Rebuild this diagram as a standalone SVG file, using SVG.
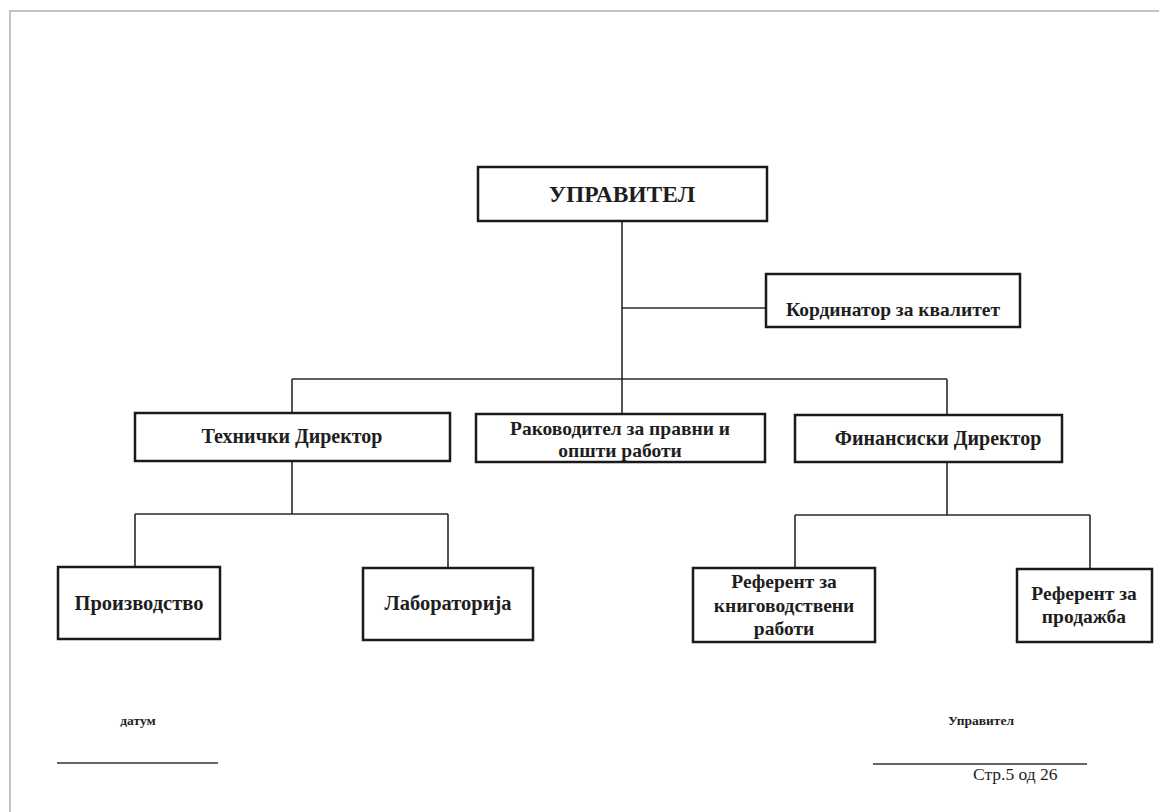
<svg xmlns="http://www.w3.org/2000/svg" width="1159" height="812" viewBox="0 0 1159 812">
<style>
.box{fill:#fff;stroke:#1a1a1a;stroke-width:2.5}
.ln{fill:none;stroke:#2a2a2a;stroke-width:1.6}
.t{font-family:"Liberation Serif","Times New Roman",serif;font-weight:bold;fill:#1e1e1e;text-anchor:middle}
.f{font-family:"Liberation Serif","Times New Roman",serif;fill:#1e1e1e}
</style>
<rect width="1159" height="812" fill="#fff"/>
<path d="M10 812 V11 H1159" fill="none" stroke="#c4c4c4" stroke-width="2"/>
<g id="connectors" class="ln">
<path d="M622 221 V413"/>
<path d="M622 308 H766"/>
<path d="M292 379 H947"/>
<path d="M292 379 V413"/>
<path d="M947 379 V415"/>
<path d="M292 461 V514 M135 514 H448 M135 514 V567 M448 514 V568"/>
<path d="M947 462 V515 M795 515 H1090 M795 515 V568 M1090 515 V569"/>
</g>
<g id="n-upravitel"><rect class="box" x="478" y="167" width="289" height="54"/><text class="t" x="622" y="202" font-size="23.5">УПРАВИТЕЛ</text></g>
<g id="n-kordinator"><rect class="box" x="766" y="274" width="254" height="53"/><text class="t" x="893" y="316" font-size="19.5">Кординатор за квалитет</text></g>
<g id="n-tehnicki"><rect class="box" x="135" y="413" width="315" height="48"/><text class="t" x="292" y="443" font-size="20">Технички Директор</text></g>
<g id="n-rakovoditel"><rect class="box" x="476" y="414" width="289" height="48"/><text class="t" x="620" y="435" font-size="19.5">Раководител за правни и</text><text class="t" x="620" y="457" font-size="19.5">општи работи</text></g>
<g id="n-finansiski"><rect class="box" x="795" y="415" width="267" height="47"/><text class="t" x="938" y="445" font-size="20">Финансиски Директор</text></g>
<g id="n-proizvodstvo"><rect class="box" x="58" y="567" width="162" height="72"/><text class="t" x="139" y="610" font-size="20.5">Производство</text></g>
<g id="n-laboratorija"><rect class="box" x="363" y="568" width="170" height="72"/><text class="t" x="448" y="610" font-size="20.5">Лабораторија</text></g>
<g id="n-ref-knig"><rect class="box" x="693" y="568" width="182" height="74"/><text class="t" x="784" y="588" font-size="19.5">Референт за</text><text class="t" x="784" y="612" font-size="19.5">книговодствени</text><text class="t" x="784" y="635" font-size="19.5">работи</text></g>
<g id="n-ref-prod"><rect class="box" x="1017" y="569" width="135" height="73"/><text class="t" x="1084" y="600" font-size="19.5">Референт за</text><text class="t" x="1084" y="623" font-size="19.5">продажба</text></g>
<g id="footer">
<text class="t" x="138" y="725" font-size="13.5">датум</text>
<path d="M57 763 H218" stroke="#333" stroke-width="1.5"/>
<text class="t" x="981" y="725" font-size="13.5">Управител</text>
<path d="M873 764 H1087" stroke="#333" stroke-width="1.5"/>
<text class="f" x="973" y="780" font-size="17.5">Стр.5 од 26</text>
</g>
</svg>
